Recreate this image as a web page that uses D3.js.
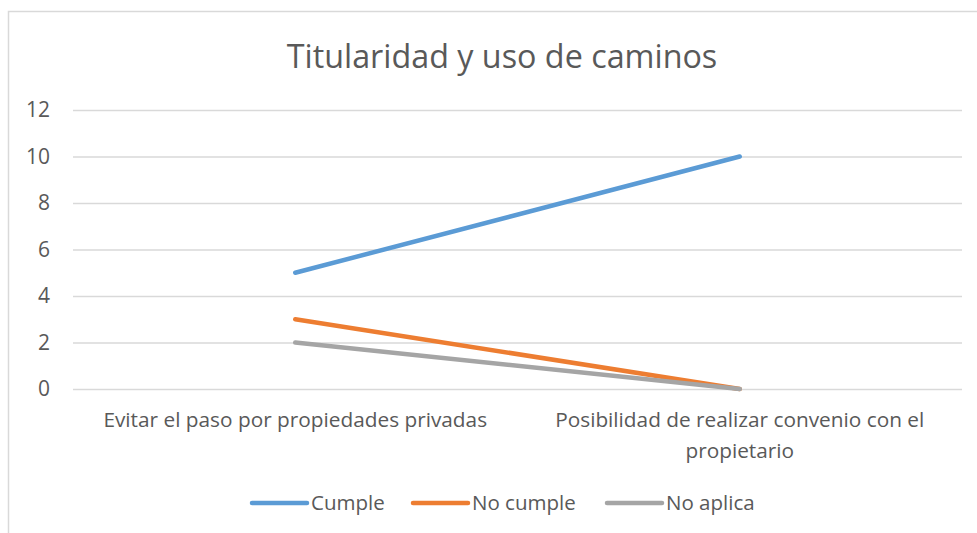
<!DOCTYPE html>
<html>
<head>
<meta charset="utf-8">
<script src="https://cdn.jsdelivr.net/npm/d3@7"></script>
<style>
  body { margin: 0; background: #fff; }
  svg text { font-family: "Open Sans", sans-serif; fill: #595959; }
</style>
</head>
<body>
<svg id="chart" width="977" height="533"></svg>
<script>
var title = "Titularidad y uso de caminos";
var categories = [
  ["Evitar el paso por propiedades privadas"],
  ["Posibilidad de realizar convenio con el", "propietario"]
];
var seriesNames = ["Cumple", "No cumple", "No aplica"];
var seriesColors = ["#5b9bd5", "#ed7d31", "#a5a5a5"];
var cumple = [5, 10];
var noCumple = [3, 0];
var noAplica = [2, 0];
var yTicks = [0, 2, 4, 6, 8, 10, 12];

var series = [cumple, noCumple, noAplica];
var margin = { top: 110, right: 15, bottom: 144, left: 73 };
var W = 977, H = 533;
var width = W - margin.left - margin.right;
var height = H - margin.top - margin.bottom;

var svg = d3.select("#chart");

// chart border
svg.append("rect").
  attr("x", 8.5).attr("y", 11.5).
  attr("width", 1000).attr("height", 600).
  attr("fill", "none").attr("stroke", "#d9d9d9").attr("stroke-width", 1.5);

var g = svg.append("g").
  attr("transform", "translate(" + margin.left + "," + margin.top + ")");

var xScale = d3.scalePoint().
  domain(d3.range(categories.length)).
  range([0, width]).
  padding(0.5);

var yScale = d3.scaleLinear().
  domain([0, 12]).
  range([height, 0]);

var yAxis = d3.axisLeft(yScale).
  tickValues(yTicks).
  tickSize(-width).
  tickPadding(23);

var gY = g.append("g").call(yAxis);
gY.select(".domain").remove();
gY.selectAll(".tick line").attr("stroke", "#d9d9d9").attr("stroke-width", 1.5);
gY.selectAll(".tick text").
  attr("font-size", 21).
  style("fill", "#595959");

var line = d3.line().
  x(function(d, i) { return xScale(i); }).
  y(function(d) { return yScale(d); });

series.forEach(function(s, k) {
  g.append("path").
    datum(s).
    attr("d", line).
    attr("fill", "none").
    attr("stroke", seriesColors[k]).
    attr("stroke-width", 4.5).
    attr("stroke-linecap", "round");
});

// category labels
categories.forEach(function(lines, i) {
  var t = g.append("text").
    attr("x", xScale(i)).
    attr("y", height + 38).
    attr("text-anchor", "middle").
    attr("font-size", 20.8);
  lines.forEach(function(l, j) {
    t.append("tspan").
      attr("x", xScale(i)).
      attr("dy", j === 0 ? 0 : 31).
      text(l);
  });
});

svg.append("text").
  attr("x", 502).
  attr("y", 68).
  attr("text-anchor", "middle").
  attr("font-size", 32.3).
  text(title);

// legend
var legendX = [252, 413, 607];
var legend = svg.append("g").attr("transform", "translate(0,503)");
seriesNames.forEach(function(name, k) {
  legend.append("line").
    attr("x1", legendX[k]).attr("x2", legendX[k] + 55).
    attr("y1", 0).attr("y2", 0).
    attr("stroke", seriesColors[k]).
    attr("stroke-width", 4.5).
    attr("stroke-linecap", "round");
  legend.append("text").
    attr("x", legendX[k] + 59).
    attr("y", 7).
    attr("font-size", 20.5).
    text(name);
});
</script>
</body>
</html>
